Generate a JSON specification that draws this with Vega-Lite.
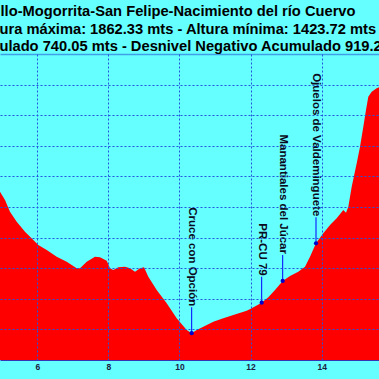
{
  "$schema": "https://vega.github.io/schema/vega-lite/v6.json",
  "width": 379,
  "height": 306,
  "autosize": {"type": "none"},
  "padding": {"left": 0, "right": 0, "top": 54, "bottom": 19},
  "background": "#66FFFF",
  "config": {"view": {"stroke": null}, "font": "Liberation Sans"},
  "title": {
    "text": [
      "llo-Mogorrita-San Felipe-Nacimiento del río Cuervo",
      "Altura máxima: 1862.33 mts - Altura mínima: 1423.72 mts",
      "D+ Acumulado 740.05 mts - Desnivel Negativo Acumulado 919.29 mts"
    ],
    "font": "Liberation Sans",
    "fontSize": 14.7,
    "fontWeight": "bold",
    "color": "#000000",
    "anchor": "middle",
    "frame": "group",
    "dx": -11.5,
    "dy": 17,
    "offset": 5,
    "baseline": "alphabetic",
    "lineHeight": 17.5
  },
  "datasets": {
    "profile": [
      {"km": 4.90, "elev": 1660.0},
      {"km": 4.951, "elev": 1655.0},
      {"km": 5.092, "elev": 1641.4},
      {"km": 5.232, "elev": 1622.3},
      {"km": 5.421, "elev": 1606.0},
      {"km": 5.654, "elev": 1589.6},
      {"km": 5.888, "elev": 1576.1},
      {"km": 6.028, "elev": 1567.9},
      {"km": 6.265, "elev": 1559.7},
      {"km": 6.546, "elev": 1548.8},
      {"km": 6.827, "elev": 1540.6},
      {"km": 7.109, "elev": 1529.8},
      {"km": 7.201, "elev": 1529.8},
      {"km": 7.390, "elev": 1540.6},
      {"km": 7.623, "elev": 1548.8},
      {"km": 7.764, "elev": 1547.8},
      {"km": 7.952, "elev": 1542.3},
      {"km": 8.045, "elev": 1529.8},
      {"km": 8.138, "elev": 1527.1},
      {"km": 8.279, "elev": 1531.5},
      {"km": 8.467, "elev": 1532.5},
      {"km": 8.608, "elev": 1529.8},
      {"km": 8.749, "elev": 1524.3},
      {"km": 8.889, "elev": 1529.8},
      {"km": 9.002, "elev": 1531.5},
      {"km": 9.123, "elev": 1516.1},
      {"km": 9.359, "elev": 1494.4},
      {"km": 9.640, "elev": 1472.6},
      {"km": 9.921, "elev": 1448.1},
      {"km": 10.203, "elev": 1429.0},
      {"km": 10.343, "elev": 1423.72},
      {"km": 10.484, "elev": 1429.0},
      {"km": 10.670, "elev": 1434.4},
      {"km": 10.951, "elev": 1442.6},
      {"km": 11.232, "elev": 1448.1},
      {"km": 11.514, "elev": 1453.5},
      {"km": 11.890, "elev": 1460.6},
      {"km": 12.031, "elev": 1464.5},
      {"km": 12.312, "elev": 1473.6},
      {"km": 12.498, "elev": 1482.5},
      {"km": 12.687, "elev": 1494.4},
      {"km": 12.903, "elev": 1509.1},
      {"km": 13.109, "elev": 1517.3},
      {"km": 13.342, "elev": 1524.3},
      {"km": 13.531, "elev": 1532.5},
      {"km": 13.671, "elev": 1548.8},
      {"km": 13.840, "elev": 1570.7},
      {"km": 14.045, "elev": 1587.0},
      {"km": 14.234, "elev": 1600.6},
      {"km": 14.422, "elev": 1611.5},
      {"km": 14.608, "elev": 1625.1},
      {"km": 14.684, "elev": 1620.7},
      {"km": 14.749, "elev": 1630.5},
      {"km": 14.844, "elev": 1663.2},
      {"km": 14.985, "elev": 1701.4},
      {"km": 15.078, "elev": 1728.5},
      {"km": 15.171, "elev": 1761.2},
      {"km": 15.246, "elev": 1788.5},
      {"km": 15.311, "elev": 1810.2},
      {"km": 15.407, "elev": 1818.4},
      {"km": 15.547, "elev": 1824.0},
      {"km": 15.612, "elev": 1825.6},
      {"km": 15.70, "elev": 1830.0}
    ],
    "waypoints": [
      {"km": 10.343, "elev": 1423.72, "name": "Cruce con Opción"},
      {"km": 12.312, "elev": 1473.6, "name": "PR-CU 79"},
      {"km": 12.903, "elev": 1509.1, "name": "Manantiales del Júcar"},
      {"km": 13.840, "elev": 1570.7, "name": "Ojuelos de Valdeminguete"}
    ]
  },
  "layer": [
    {
      "data": {"name": "profile"},
      "mark": {"type": "area", "color": "#FF0000", "clip": true, "interpolate": "linear"},
      "encoding": {
        "x": {
          "field": "km", "type": "quantitative", "title": null,
          "scale": {"domain": [4.951, 15.612], "nice": false, "zero": false},
          "axis": {
            "orient": "bottom", "values": [6, 8, 10, 12, 14], "format": "d",
            "grid": true, "gridColor": "#2255DD", "gridDash": [2, 2], "gridWidth": 1,
            "domain": true, "domainColor": "#3535B5", "domainWidth": 1,
            "ticks": false, "labelFont": "Liberation Sans", "labelFontSize": 8.5,
            "labelFontWeight": "bold", "labelColor": "#1a2040", "labelPadding": 2,
            "labelFlush": false, "zindex": 1
          }
        },
        "y": {
          "field": "elev", "type": "quantitative", "title": null,
          "scale": {"domain": [1380, 1880], "nice": false, "zero": false},
          "axis": {
            "values": [1430, 1480, 1530, 1580, 1630, 1680, 1730, 1780, 1830],
            "tickCount": 20,
            "grid": true, "gridColor": "#2255DD", "gridDash": [2, 2],
            "gridWidth": 1, "labels": false, "ticks": false, "domain": false, "zindex": 1
          }
        }
      }
    },
    {
      "data": {"name": "waypoints"},
      "mark": {"type": "rule", "color": "#0000FF", "strokeWidth": 1, "y2Offset": -26},
      "encoding": {
        "x": {
          "field": "km", "type": "quantitative", "title": null,
          "axis": {
            "orient": "top", "labels": false, "ticks": false,
            "grid": false, "domain": true, "domainColor": "#3FA0E8", "domainWidth": 1.5
          }
        },
        "y": {"field": "elev", "type": "quantitative", "title": null},
        "y2": {"field": "elev"}
      }
    },
    {
      "data": {"name": "waypoints"},
      "mark": {"type": "point", "filled": true, "color": "#0000CC", "size": 18, "opacity": 1},
      "encoding": {
        "x": {"field": "km", "type": "quantitative", "axis": null},
        "y": {"field": "elev", "type": "quantitative", "title": null}
      }
    },
    {
      "data": {"name": "waypoints"},
      "mark": {
        "type": "text", "angle": 90, "align": "right", "baseline": "middle",
        "yOffset": -27, "font": "Liberation Sans", "fontSize": 11.5,
        "fontWeight": "bold", "color": "#0a0a20"
      },
      "encoding": {
        "x": {"field": "km", "type": "quantitative", "axis": null},
        "y": {"field": "elev", "type": "quantitative", "title": null},
        "text": {"field": "name"}
      }
    }
  ],
  "resolve": {"axis": {"x": "independent"}}
}
